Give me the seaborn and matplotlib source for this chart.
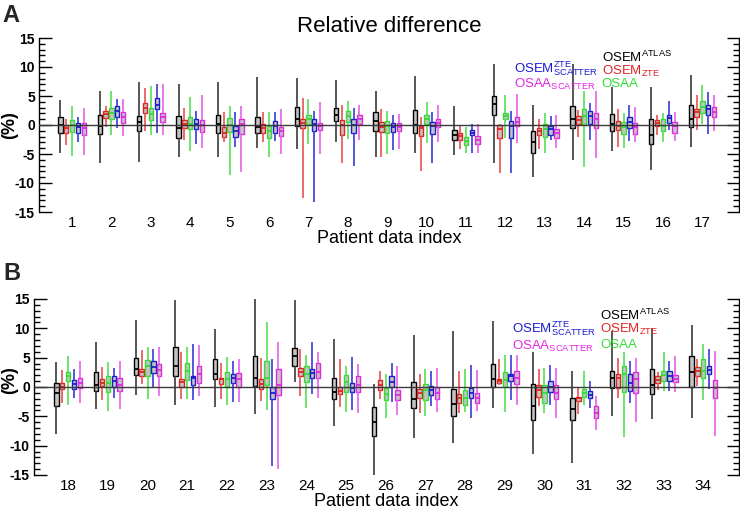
import pandas as pd
import seaborn as sns
import matplotlib
matplotlib.use('Agg')
import matplotlib.pyplot as plt

patients = list(range(1, 35))
methods = ['OSEM_ATLAS', 'OSEM_ZTE', 'OSAA', 'OSEM_ZTE_SCATTER', 'OSAA_SCATTER']
method_labels = [r'OSEM$^{\mathrm{ATLAS}}$', r'OSEM$_{\mathrm{ZTE}}$', 'OSAA',
                 r'OSEM$^{\mathrm{ZTE}}_{\mathrm{SCATTER}}$', r'OSAA$_{\mathrm{SCATTER}}$']
edge_colors = ['#000000', '#e02424', '#33dd33', '#1c1cd0', '#e028e0']
whisker_colors = ['#3a3a3a', '#e85050', '#55e055', '#3a3ad8', '#e860e8']

# each row: whisker low, q1, median, q3, whisker high  (%)
osem_atlas = [
    [-4.8, -1.3, 0.0, 1.4, 4.35], [-6.6, -1.5, -0.1, 1.7, 5.8], [-6.4, -1.1, 0.5, 1.5, 7.4],
    [-5.5, -2.3, -0.6, 1.6, 7.1], [-5.5, -1.3, 0.2, 1.8, 7.4], [-3.9, -1.3, -0.35, 1.4, 8.3],
    [-4.1, -0.2, 1.1, 3.1, 8.1], [-2.9, 0.7, 1.8, 2.9, 7.8], [-5.6, -1.1, 0.7, 2.2, 5.8],
    [-4.8, -1.4, 0.0, 2.6, 8.4], [-5.1, -2.6, -1.8, -0.8, 3.3], [-6.6, 1.7, 3.7, 5.0, 10.5],
    [-8.9, -4.9, -2.9, -1.0, 3.4], [-6.0, -0.6, 1.1, 3.3, 10.5], [-4.5, -1.1, 0.2, 1.9, 6.6],
    [-7.7, -3.2, -1.8, 1.1, 6.6], [-3.8, -0.4, 1.1, 3.5, 8.6],
    [-8.0, -3.2, -1.1, 0.7, 4.2], [-3.8, -0.6, 0.3, 2.5, 7.6], [-1.4, 2.0, 3.0, 4.9, 11.4],
    [-3.0, 1.8, 3.5, 6.9, 14.8], [-3.35, 1.3, 2.3, 4.7, 9.9], [-4.6, 0.2, 1.5, 5.2, 15.0],
    [0.8, 3.5, 5.2, 6.6, 14.9], [-6.6, -2.1, -0.9, 1.6, 8.2], [-15.0, -8.3, -6.0, -3.35, 0.45],
    [-8.7, -3.6, -2.05, 0.85, 8.9], [-9.6, -4.9, -2.95, -0.35, 9.5], [-3.6, 0.05, 1.3, 4.0, 11.2],
    [-11.4, -5.7, -3.2, 0.45, 6.0], [-13.0, -5.7, -3.8, -1.9, 2.7], [-4.9, -0.2, 1.5, 2.8, 9.5],
    [-5.5, -1.2, 0.35, 3.1, 10.1], [-5.3, 0.0, 2.55, 5.2, 10.6],
]
osem_zte = [
    [-3.4, -1.4, -0.6, 0.0, 1.0], [-0.3, 1.26, 1.9, 2.5, 3.3], [-1.0, 2.1, 3.0, 3.8, 6.4],
    [-2.6, -0.6, 0.1, 0.9, 3.0], [-2.9, -2.1, -1.3, -0.4, 2.3], [-3.0, -1.3, -0.5, 0.1, 2.2],
    [-12.6, -0.6, 0.3, 1.1, 4.6], [-6.5, -1.8, 0.0, 0.8, 3.4], [-5.5, -1.2, -0.35, 0.5, 2.7],
    [-8.0, -1.9, -0.6, -0.1, 1.3], [-4.2, -2.5, -1.9, -1.4, -0.2], [-8.2, -2.3, -0.7, -0.05, 0.2],
    [-4.1, -1.7, -1.0, -0.5, 1.0], [-2.1, 0.1, 0.9, 1.5, 2.6], [-3.8, -0.9, -0.1, 0.7, 2.8],
    [-1.7, -0.1, 0.4, 0.9, 1.8], [-0.9, 1.4, 2.2, 2.7, 5.2],
    [-2.7, -0.4, 0.05, 0.6, 2.9], [-2.2, 0.1, 0.7, 1.4, 3.4], [0.45, 1.8, 2.5, 3.1, 6.3],
    [-2.0, 0.0, 0.9, 1.4, 6.0], [-2.0, 0.45, 1.3, 1.6, 4.1], [-2.4, -0.4, 0.5, 1.4, 5.0],
    [-1.6, 1.9, 2.5, 3.3, 6.4], [-3.35, -1.25, -0.6, -0.05, 4.8], [-2.1, -0.45, 0.4, 1.2, 2.8],
    [-4.5, -1.8, -1.1, -0.35, 2.2], [-4.5, -2.7, -1.9, -1.25, 2.8], [0.35, 0.7, 1.1, 1.4, 4.8],
    [-3.3, -1.7, -0.55, 0.3, 3.1], [-4.6, -2.4, -1.9, -1.65, 0.05], [-1.9, -0.2, 1.5, 2.2, 4.9],
    [-0.5, 0.6, 1.2, 1.8, 2.6], [0.2, 1.9, 2.7, 3.35, 4.7],
]
osaa = [
    [-5.3, -1.2, 0.0, 0.8, 3.2], [-1.7, 1.0, 2.1, 2.9, 5.8], [-1.7, 0.9, 1.9, 3.0, 6.7],
    [-4.5, -0.7, 0.1, 1.4, 4.75], [-8.6, -1.2, 0.0, 1.2, 3.3], [-5.5, -2.2, -1.1, -0.2, 2.2],
    [-3.3, 0.2, 1.1, 1.8, 4.5], [-2.4, 0.6, 1.5, 2.4, 4.1], [-5.0, -1.4, -0.2, 0.7, 2.5],
    [-3.1, 0.2, 1.1, 1.7, 4.0], [-4.9, -3.4, -2.7, -2.0, -0.3], [-2.2, 1.0, 1.5, 2.1, 5.1],
    [-4.75, -2.0, -0.75, 0.1, 2.1], [-7.3, 0.2, 1.5, 2.8, 5.8], [-4.0, -1.5, -0.35, 0.5, 2.1],
    [-3.0, -1.1, -0.1, 1.1, 2.1], [0.1, 2.0, 3.1, 4.2, 6.9],
    [-3.0, 1.0, 1.8, 2.6, 5.3], [-4.1, -0.8, 0.6, 1.8, 4.2], [-2.0, 1.8, 3.6, 4.6, 6.9],
    [-2.1, 1.2, 2.7, 4.1, 6.9], [-3.1, 0.05, 1.4, 2.5, 5.1], [-4.0, 0.35, 1.5, 4.4, 11.0],
    [-3.5, 0.8, 2.2, 3.5, 5.5], [-4.3, -0.8, 0.8, 2.0, 3.5], [-5.2, -2.2, -1.25, -0.2, 2.3],
    [-4.9, -2.2, -0.55, 0.45, 3.0], [-4.2, -3.1, -1.8, -0.5, 3.0], [-4.3, 0.05, 1.2, 2.6, 5.5],
    [-4.5, -2.8, -1.0, 0.4, 3.2], [-3.1, -1.75, -1.0, -0.35, 2.7], [-8.6, -0.85, 2.2, 3.5, 6.0],
    [-0.6, 1.1, 2.05, 2.8, 6.0], [-2.2, 1.5, 2.8, 4.7, 7.4],
]
osem_scatter = [
    [-3.0, -1.3, -0.35, 0.4, 1.4], [-0.5, 1.4, 2.5, 3.3, 4.4], [-1.4, 2.7, 3.5, 4.7, 7.1],
    [-3.3, -0.7, 0.1, 1.0, 2.5], [-3.8, -2.1, -1.1, -0.2, 2.3], [-2.7, -1.3, -0.2, 0.7, 2.2],
    [-13.3, -1.1, 0.1, 1.1, 2.4], [-7.0, -1.4, 0.05, 1.0, 2.9], [-4.3, -1.2, -0.35, 0.4, 1.8],
    [-6.5, -1.6, -0.2, 0.6, 2.2], [-4.9, -1.8, -1.3, -0.8, 0.1], [-8.2, -2.2, -0.2, 0.7, 2.5],
    [-2.6, -1.7, -0.75, -0.1, 1.5], [-2.5, 0.2, 1.6, 2.5, 3.8], [-2.7, -0.5, 0.5, 1.3, 3.4],
    [-0.9, 0.4, 1.2, 1.8, 4.1], [-1.6, 1.8, 2.7, 3.5, 5.7],
    [-1.9, -0.35, 0.45, 1.2, 3.1], [-1.9, -0.05, 1.0, 1.8, 3.3], [-0.2, 2.4, 3.35, 4.4, 6.4],
    [-2.2, 0.3, 1.6, 1.9, 7.3], [-2.6, 0.7, 1.6, 2.2, 4.5], [-13.5, -2.1, -1.0, 0.0, 4.8],
    [-1.25, 1.6, 2.4, 3.1, 7.7], [-3.9, -0.9, -0.2, 0.6, 5.1], [-2.5, -0.05, 0.85, 1.8, 4.1],
    [-3.2, -1.4, -0.5, 0.15, 2.7], [-5.2, -1.9, -1.1, -0.2, 3.8], [-2.2, 1.1, 1.8, 2.3, 5.4],
    [-3.1, -0.8, 0.05, 1.1, 3.8], [-3.5, -1.9, -1.3, -0.7, 1.1], [-2.8, -0.6, 0.75, 2.3, 4.4],
    [-0.7, 1.1, 1.9, 2.8, 4.5], [-0.3, 2.2, 2.9, 3.5, 6.5],
]
osaa_scatter = [
    [-5.1, -1.7, -0.6, 0.4, 3.0], [-1.9, 0.4, 1.4, 2.3, 4.5], [-1.8, 0.6, 1.3, 2.1, 7.0],
    [-3.9, -1.2, 0.0, 0.9, 5.2], [-8.1, -1.5, 0.1, 1.1, 3.2], [-5.0, -1.9, -1.1, -0.3, 2.7],
    [-5.0, -0.9, -0.2, 0.4, 3.9], [-2.5, 0.1, 1.1, 1.7, 3.5], [-4.1, -1.1, -0.3, 0.4, 1.9],
    [-2.9, -0.3, 0.4, 1.0, 3.4], [-4.75, -3.2, -2.6, -1.9, 0.1], [-3.1, -0.1, 0.6, 1.4, 5.3],
    [-3.9, -2.2, -1.4, -0.75, 1.7], [-5.7, -0.5, 1.0, 2.1, 5.8], [-3.0, -1.5, -0.35, 0.3, 3.1],
    [-2.7, -1.3, -0.2, 0.6, 2.2], [-1.0, 1.4, 2.3, 3.1, 5.1],
    [-2.7, -0.2, 0.6, 1.5, 4.5], [-3.7, -0.6, 0.4, 1.5, 4.5], [-1.6, 1.8, 2.9, 3.9, 6.9],
    [-1.6, 0.7, 2.3, 3.5, 7.2], [-2.6, 0.05, 1.3, 2.4, 4.7], [-13.9, -1.4, 0.4, 3.0, 7.7],
    [-1.9, 1.6, 2.6, 4.1, 6.0], [-4.4, -0.9, 0.35, 1.8, 4.0], [-4.7, -2.2, -1.4, -0.5, 3.5],
    [-4.2, -2.1, -1.1, 0.05, 3.2], [-4.1, -2.7, -1.8, -1.1, 2.9], [-3.0, 0.45, 1.5, 2.7, 5.4],
    [-5.2, -2.1, -1.1, 0.3, 3.3], [-7.3, -5.2, -4.4, -3.2, -1.5], [-6.0, -1.0, 1.4, 2.5, 5.0],
    [-0.9, 0.85, 1.4, 2.0, 5.3], [-8.35, -1.9, -0.15, 1.25, 6.1],
]
yticks = [-15, -10, -5, 0, 5, 10, 15]

# five values per box -> seaborn quartiles land exactly on them
rows = []
for m, stats in zip(methods, [osem_atlas, osem_zte, osaa, osem_scatter, osaa_scatter]):
    for p, s in zip(patients, stats):
        for v in s:
            rows.append((p, m, v))
df = pd.DataFrame(rows, columns=['patient', 'method', 'value'])

sns.set_theme(style='white')
plt.rcParams['font.family'] = ['Liberation Sans', 'DejaVu Sans']
plt.rcParams['mathtext.fontset'] = 'custom'
plt.rcParams['mathtext.rm'] = 'Liberation Sans'

fig = plt.figure(figsize=(7.4, 5.09), dpi=100)
axA = fig.add_axes([39 / 740, 1 - 212 / 509, 700 / 740, 174 / 509])
axB = fig.add_axes([34 / 740, 1 - 475 / 509, 705 / 740, 176 / 509])

panels = [(axA, 1, 17, (-0.84, 16.93), (-0.030, 0.5), 0.679, 0.804,
           [0.862, 0.787, 0.718, 0.80, 0.712]),
          (axB, 18, 34, (-0.86, 16.9), (-0.023, 0.54), 0.678, 0.803,
           [0.881, 0.807, 0.722, 0.808, 0.71])]

for ax, p0, p1, xlim, ylab_pos, xleft, xright, ys in panels:
    sub = df[df.patient.between(p0, p1)]
    sns.boxplot(data=sub, x='patient', y='value', hue='method', hue_order=methods,
                palette={m: '#c4c4c4' for m in methods}, width=0.74, gap=0.25,
                whis=(0, 100), showcaps=False, showfliers=False, linewidth=1,
                legend=False, ax=ax)
    for cont, ec, wc in zip(ax.containers, edge_colors, whisker_colors):
        for b in cont.boxes:
            b.set_edgecolor(ec)
            b.set_linewidth(1.0)
        for ln in cont.medians:
            ln.set_color(ec)
            ln.set_linewidth(1.3)
        for ln in cont.whiskers:
            ln.set_color(wc)
            ln.set_linewidth(1.2)
    ax.axhline(0, color='#3a3a3a', lw=1, zorder=4)

    ax.set_xlim(*xlim)
    ax.set_ylim(-15, 15)
    ax.set_yticks(yticks)
    ax.set_yticklabels([str(t) for t in yticks], fontweight='bold', fontsize=10)
    ax.set_yticks(range(-15, 16), minor=True)
    ax.tick_params(axis='y', which='major', direction='in', length=9, width=1,
                   left=True, right=True, pad=3, color='black', labelcolor='black')
    ax.tick_params(axis='y', which='minor', direction='in', length=4.5, width=1,
                   left=True, right=True, color='black')
    ax.tick_params(axis='x', length=0, labelsize=11, pad=3, labelcolor='black')
    for side in ['top', 'bottom']:
        ax.spines[side].set_visible(False)
    for side in ['left', 'right']:
        ax.spines[side].set_color('black')
        ax.spines[side].set_linewidth(1)

    ax.set_xlabel('Patient data index', fontsize=13, labelpad=0, color='black')
    ax.set_ylabel('(%)', fontsize=13, fontweight='bold', color='black')
    ax.yaxis.set_label_coords(*ylab_pos)

    # legend as coloured text
    xs = [xright, xright, xright, xleft, xleft]
    for lbl, c, x, y in zip(method_labels, edge_colors, xs, ys):
        ax.text(x, y, lbl, color=c, fontsize=9.5, va='baseline',
                transform=ax.transAxes)

axA.set_title('Relative difference', fontsize=16, pad=4, color='black')
fig.text(2 / 740, 1 - 22 / 509, 'A', fontsize=17, fontweight='bold', va='baseline')
fig.text(3 / 740, 1 - 280 / 509, 'B', fontsize=17, fontweight='bold', va='baseline')

fig.savefig('out.png', dpi=100)
